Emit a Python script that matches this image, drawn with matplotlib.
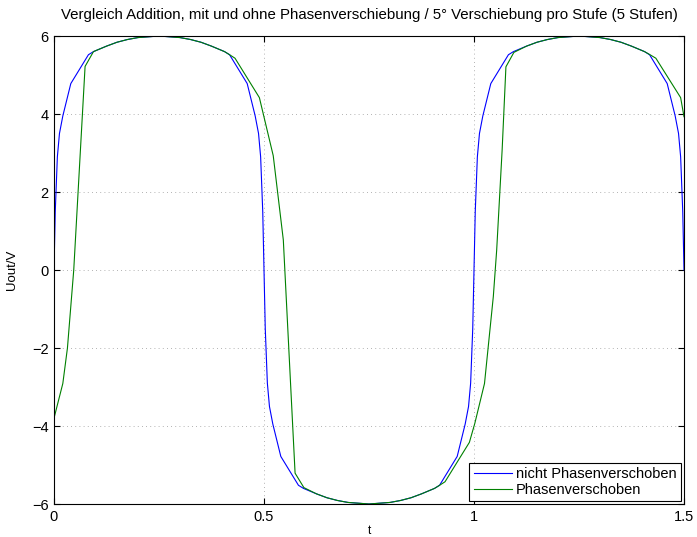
import numpy as np
import matplotlib
matplotlib.use("Agg")
import matplotlib.pyplot as plt

plt.rcParams['font.family'] = ['Liberation Sans', 'DejaVu Sans']

# values
t_blue = [0, 0.003, 0.008, 0.013, 0.021, 0.040, 0.082, 0.094, 0.125, 0.15, 0.175, 0.2,
          0.25, 0.3, 0.325, 0.35, 0.375, 0.406, 0.418, 0.460, 0.479, 0.487, 0.492, 0.497,
          0.5, 0.503, 0.508, 0.513, 0.521, 0.540, 0.582, 0.594, 0.625, 0.65, 0.675, 0.7,
          0.75, 0.8, 0.825, 0.85, 0.875, 0.906, 0.918, 0.960, 0.979, 0.987, 0.992, 0.997,
          1.0, 1.003, 1.008, 1.013, 1.021, 1.040, 1.082, 1.094, 1.125, 1.15, 1.175, 1.2,
          1.25, 1.3, 1.325, 1.35, 1.375, 1.406, 1.418, 1.460, 1.479, 1.487, 1.492, 1.497, 1.5]
u_blue = [0, 1.5, 2.9, 3.5, 3.95, 4.78, 5.52, 5.60, 5.74, 5.84, 5.91, 5.96,
          6.0, 5.96, 5.91, 5.84, 5.74, 5.60, 5.52, 4.78, 3.95, 3.5, 2.9, 1.5,
          0, -1.5, -2.9, -3.5, -3.95, -4.78, -5.52, -5.60, -5.74, -5.84, -5.91, -5.96,
          -6.0, -5.96, -5.91, -5.84, -5.74, -5.60, -5.52, -4.78, -3.95, -3.5, -2.9, -1.5,
          0, 1.5, 2.9, 3.5, 3.95, 4.78, 5.52, 5.60, 5.74, 5.84, 5.91, 5.96,
          6.0, 5.96, 5.91, 5.84, 5.74, 5.60, 5.52, 4.78, 3.95, 3.5, 2.9, 1.5, 0]

t_green = [0, 0.021, 0.032, 0.047, 0.074, 0.094, 0.125, 0.15, 0.175, 0.2,
           0.25, 0.3, 0.325, 0.35, 0.375, 0.406, 0.418, 0.431, 0.489, 0.522, 0.546,
           0.574, 0.595, 0.625, 0.65, 0.675, 0.7, 0.75, 0.8, 0.825, 0.85, 0.875,
           0.906, 0.918, 0.931, 0.989, 1.002, 1.025, 1.046, 1.054, 1.067, 1.076, 1.095,
           1.125, 1.15, 1.175, 1.2, 1.25, 1.3, 1.325, 1.35, 1.375, 1.406, 1.419,
           1.433, 1.492, 1.5]
u_green = [-3.8, -2.91, -2.0, 0.0, 5.22, 5.60, 5.74, 5.84, 5.91, 5.96,
           6.0, 5.96, 5.91, 5.84, 5.74, 5.60, 5.52, 5.43, 4.42, 2.93, 0.77,
           -5.21, -5.58, -5.74, -5.84, -5.91, -5.96, -6.0, -5.96, -5.91, -5.84, -5.74,
           -5.60, -5.52, -5.43, -4.42, -3.93, -2.91, -0.68, 0.51, 3.08, 5.21, 5.58,
           5.74, 5.84, 5.91, 5.96, 6.0, 5.96, 5.91, 5.84, 5.74, 5.60, 5.52,
           5.43, 4.42, 3.93]

xticks = [0, 0.5, 1, 1.5]
yticks = [-6, -4, -2, 0, 2, 4, 6]

fig = plt.figure(figsize=(6.97, 5.37), dpi=100)
ax = fig.add_axes([54/697, 1-504/537, 630/697, 468/537])

ax.plot(t_blue, u_blue, color=(0, 0, 1), lw=0.8, label="nicht Phasenverschoben")
ax.plot(t_green, u_green, color=(0, 0.5, 0), lw=0.8, label="Phasenverschoben")

ax.set_xlim(0, 1.5)
ax.set_ylim(-6, 6)
ax.set_xticks(xticks)
ax.set_xticklabels(["0", "0.5", "1", "1.5"])
ax.set_yticks(yticks)
ax.set_yticklabels(["\u22126", "\u22124", "\u22122", "0", "2", "4", "6"])
ax.tick_params(direction="in", top=True, right=True, length=4, width=0.8,
               labelsize=10.5, pad=4)
ax.grid(True, linestyle=(0, (1, 4)), color="#999999", lw=0.6)
for s in ax.spines.values():
    s.set_linewidth(0.8)

ax.set_title("Vergleich Addition, mit und ohne Phasenverschiebung / 5\u00b0 Verschiebung pro Stufe (5 Stufen)",
             fontsize=10.8, pad=12)
ax.set_xlabel("t", fontsize=8.5, labelpad=1)
ax.set_ylabel("Uout/V", fontsize=9.5, labelpad=10)

leg = ax.legend(loc="lower right", fontsize=10.5, fancybox=False, framealpha=1,
                edgecolor="black", handlelength=2.6, borderpad=0.3,
                labelspacing=0.1, handletextpad=0.3, borderaxespad=0.2)
leg.get_frame().set_linewidth(0.8)

plt.savefig("out.png", dpi=100)
plt.close()
